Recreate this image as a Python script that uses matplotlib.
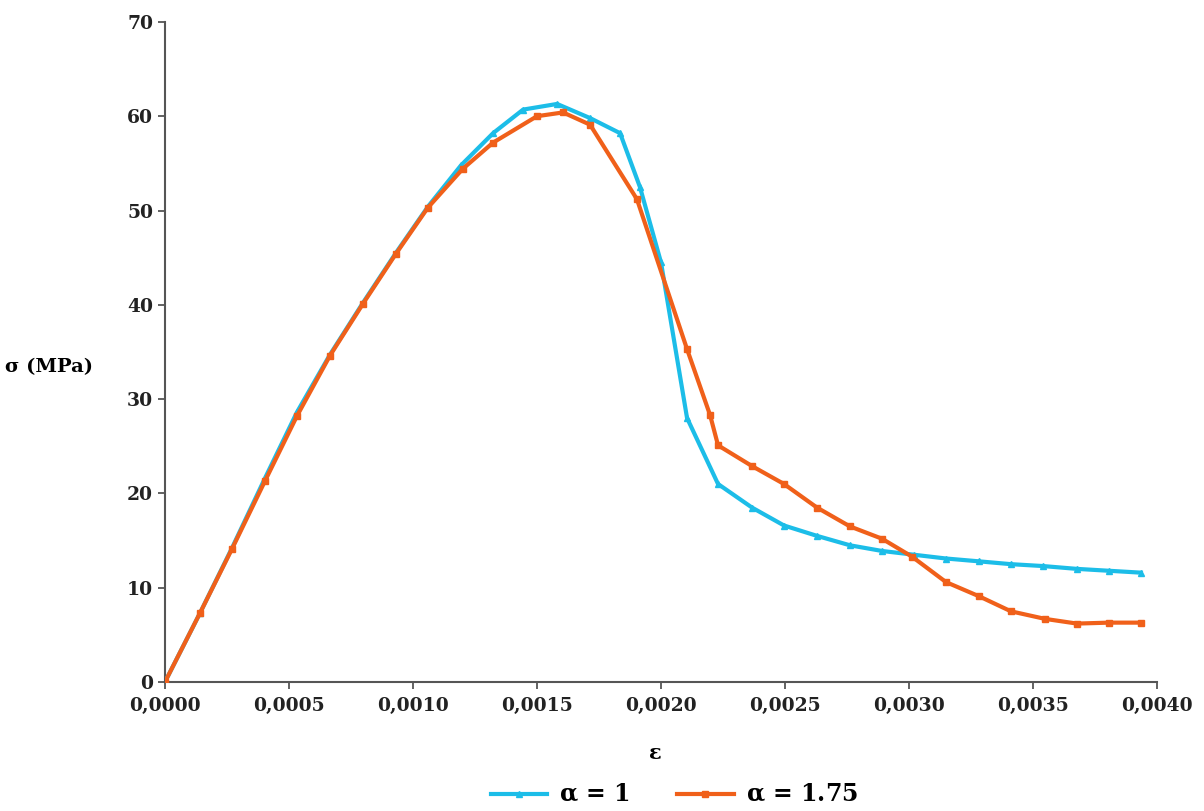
import numpy as np
import matplotlib
matplotlib.use('Agg')
import matplotlib.pyplot as plt
from matplotlib.ticker import FuncFormatter

# strain / stress values
strain_a1 = [0.0, 0.000141, 0.000270, 0.000403, 0.000532, 0.000665, 0.000798,
             0.000931, 0.001060, 0.001194, 0.001323, 0.001444, 0.001581,
             0.001714, 0.001835, 0.001915, 0.002000, 0.002105, 0.002230,
             0.002367, 0.002496, 0.002629, 0.002762, 0.002891, 0.003020,
             0.003149, 0.003282, 0.003411, 0.003540, 0.003677, 0.003806,
             0.003935]
stress_a1 = [0.0, 7.3, 14.2, 21.6, 28.6, 34.7, 40.2, 45.5, 50.4, 54.8, 58.2,
             60.7, 61.3, 59.8, 58.2, 52.5, 44.5, 28.0, 21.0, 18.5, 16.6, 15.5,
             14.5, 13.9, 13.5, 13.1, 12.8, 12.5, 12.3, 12.0, 11.8, 11.6]

strain_a175 = [0.0, 0.000141, 0.000270, 0.000403, 0.000532, 0.000665,
               0.000798, 0.000931, 0.001060, 0.001200, 0.001323, 0.001500,
               0.001605, 0.001714, 0.001903, 0.002105, 0.002198, 0.002230,
               0.002367, 0.002496, 0.002629, 0.002762, 0.002891, 0.003012,
               0.003149, 0.003282, 0.003411, 0.003548, 0.003677, 0.003806,
               0.003935]
stress_a175 = [0.0, 7.3, 14.1, 21.3, 28.2, 34.6, 40.1, 45.4, 50.3, 54.4, 57.2,
               60.0, 60.4, 59.1, 51.2, 35.3, 28.3, 25.1, 22.9, 21.0, 18.5, 16.5,
               15.2, 13.3, 10.6, 9.1, 7.5, 6.7, 6.2, 6.3, 6.3]

labels = [r'$\mathbf{\alpha}$ = 1', r'$\mathbf{\alpha}$ = 1.75']
cyan = '#1CBDE8'
orange = '#F0601A'

plt.rcParams['font.family'] = ['DejaVu Serif']
plt.rcParams['mathtext.fontset'] = 'dejavuserif'

fig = plt.figure(figsize=(12.04, 8.11), dpi=100)
ax = fig.add_axes([0.137, 0.159, 0.824, 0.814])

ax.plot(strain_a1, stress_a1, color=cyan, lw=3, marker='^', ms=5,
        label=labels[0], zorder=3)
ax.plot(strain_a175, stress_a175, color=orange, lw=3, marker='s', ms=4.5,
        label=labels[1], zorder=4)

ax.set_xlim(0, 0.004)
ax.set_ylim(0, 70)
ax.set_xticks(np.arange(0, 0.00401, 0.0005))
ax.set_yticks(np.arange(0, 71, 10))
ax.xaxis.set_major_formatter(FuncFormatter(lambda v, p: ('%.4f' % v).replace('.', ',')))

for s in ['top', 'right']:
    ax.spines[s].set_visible(False)
for s in ['left', 'bottom']:
    ax.spines[s].set_color('#555555')
    ax.spines[s].set_linewidth(1.5)
ax.tick_params(colors='#555555', length=5, width=1.3, direction='out')
for lab in ax.get_xticklabels() + ax.get_yticklabels():
    lab.set_fontsize(13.5)
    lab.set_fontweight('bold')
    lab.set_color('#222222')
ax.tick_params(axis='x', pad=6)

fig.text(0.004, 0.547, 'σ (MPa)', fontsize=14, fontweight='bold', va='center', ha='left')
fig.text(0.544, 0.072, 'ε', fontsize=15, fontweight='bold', va='center', ha='center')

leg = fig.legend(loc='center', bbox_to_anchor=(0.56, 0.02), ncol=2, frameon=False,
                 prop={'size': 17, 'weight': 'bold'}, handlelength=2.4,
                 columnspacing=2.0, handletextpad=0.5)

fig.savefig('out.png', dpi=100)
